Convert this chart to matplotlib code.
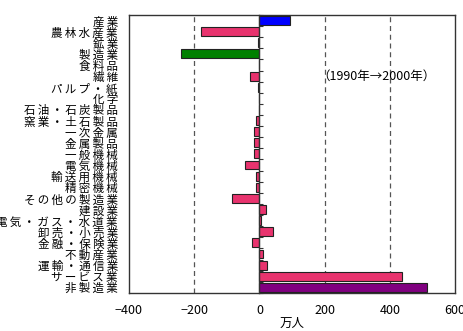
import matplotlib.pyplot as plt
import numpy as np

plt.rcParams['font.family'] = ['Noto Sans CJK JP', 'DejaVu Sans']

# 業種
industries = ['産業', '農林水産業', '鉱業', '製造業', '食料品', '繊維', 'パルプ・紙', '化学',
              '石油・石炭製品', '窯業・土石製品', '一次金属', '金属製品', '一般機械', '電気機械',
              '輸送用機械', '精密機械', 'その他の製造業', '建設業', '電気・ガス・水道業',
              '卸売・小売業', '金融・保険業', '不動産業', '運輸・通信業', 'サービス業', '非製造業']

# 就業者数の増減（万人、1990年→2000年）
change = [94, -180, -3, -240, -2, -28, -3, -2, -1, -12, -16, -18, -18, -44,
          -12, -12, -83, 21, 4, 40, -24, 11, 24, 438, 513]

pink = '#e8336e'
colors = [pink] * len(industries)
colors[0] = '#0000ff'
colors[3] = '#008000'
colors[-1] = '#800080'

fig = plt.figure(figsize=(4.64, 3.31), dpi=100)
ax = fig.add_axes([0.278, 0.115, 0.703, 0.84])

y = np.arange(len(industries))
ax.barh(y, change, height=0.8, color=colors, edgecolor='#222222', linewidth=0.8, zorder=3)

for v in [-200, 200, 400]:
    ax.axvline(v, color='#555555', linestyle=(0, (4, 3)), linewidth=0.9, zorder=1)

ax.set_xlim(-400, 600)
ax.set_ylim(len(industries) - 0.5, -0.5)
ax.set_xticks([-400, -200, 0, 200, 400, 600])
ax.tick_params(axis='x', length=0, pad=8, labelsize=9)
ax.set_yticks(y)
# 文字間を少し空ける
spaced = ['\u2009'.join(s) for s in industries]
ax.set_yticklabels(spaced, fontsize=8.3)
ax.tick_params(axis='y', length=0, pad=8)
ax.set_xlabel('万人', fontsize=9, labelpad=0)

for s in ax.spines.values():
    s.set_color('#333333')
    s.set_linewidth(1)

# 0の位置の縦軸
ax2 = ax.twinx()
ax2.set_ylim(ax.get_ylim())
ax2.spines['right'].set_position(('data', 0))
ax2.spines['right'].set_color('#333333')
ax2.spines['right'].set_linewidth(1)
for k in ['top', 'bottom', 'left']:
    ax2.spines[k].set_visible(False)
ax2.set_yticks(np.arange(len(industries) + 1) - 0.5)
ax2.set_yticklabels([])
ax2.tick_params(axis='y', direction='out', length=3, color='#333333')

ax.text(358, 5, '（1990年→2000年）', fontsize=9, ha='center', va='center')

fig.savefig('out.png', dpi=100)
